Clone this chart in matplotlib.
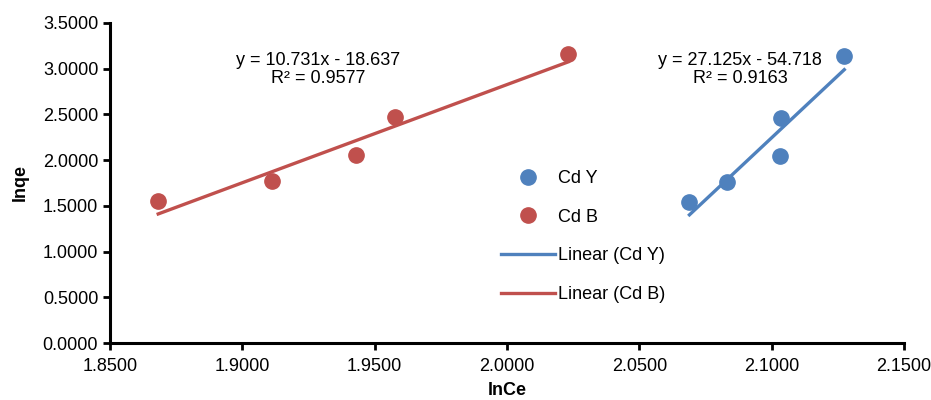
import numpy as np
import matplotlib.pyplot as plt

plt.rcParams['font.family'] = ['Liberation Sans', 'DejaVu Sans']

# data
cd_y_x = [2.0689, 2.0832, 2.1034, 2.1031, 2.1274]
cd_y_y = [1.538, 1.756, 2.456, 2.044, 3.140]
cd_b_x = [1.8682, 1.9111, 1.9429, 1.9577, 2.0231]
cd_b_y = [1.552, 1.774, 2.055, 2.467, 3.155]

# trendline coefficients (slope, intercept) and R^2 as printed
fit_y = [27.125, -54.718]
fit_b = [10.731, -18.637]
r2_y = 0.9163
r2_b = 0.9577

blue = '#4F81BD'
red = '#C0504D'

fig = plt.figure(figsize=(9.31, 4.0), dpi=100)
ax = fig.add_axes([0.1182, 0.1425, 0.8529, 0.8005])

ax.plot(cd_y_x, cd_y_y, 'o', color=blue, ms=11, label='Cd Y', zorder=3)
ax.plot(cd_b_x, cd_b_y, 'o', color=red, ms=11, label='Cd B', zorder=3)

# linear trendlines over the data range
xs_y = np.array([min(cd_y_x), max(cd_y_x)])
xs_b = np.array([min(cd_b_x), max(cd_b_x)])
ax.plot(xs_y, fit_y[0] * xs_y + fit_y[1], color=blue, lw=2.4, label='Linear (Cd Y)')
ax.plot(xs_b, fit_b[0] * xs_b + fit_b[1], color=red, lw=2.4, label='Linear (Cd B)')

ax.text(1.9286, 2.99, f'y = {fit_b[0]}x - {abs(fit_b[1])}\nR² = {r2_b}',
        ha='center', va='center', fontsize=13, linespacing=1.1)
ax.text(2.0881, 2.99, f'y = {fit_y[0]}x - {abs(fit_y[1])}\nR² = {r2_y}',
        ha='center', va='center', fontsize=13, linespacing=1.1)

ax.set_xlim(1.85, 2.15)
ax.set_ylim(0, 3.5)
ax.set_xticks(np.arange(1.85, 2.151, 0.05))
ax.set_yticks(np.arange(0, 3.51, 0.5))
ax.xaxis.set_major_formatter(plt.FormatStrFormatter('%.4f'))
ax.yaxis.set_major_formatter(plt.FormatStrFormatter('%.4f'))
ax.tick_params(labelsize=13, width=2, length=5, direction='out')
ax.tick_params(axis='x', pad=6)

for s in ['top', 'right']:
    ax.spines[s].set_visible(False)
for s in ['left', 'bottom']:
    ax.spines[s].set_linewidth(2.2)

ax.set_xlabel('lnCe', fontsize=13, fontweight='bold', labelpad=5)
ax.set_ylabel('lnqe', fontsize=13, fontweight='bold', labelpad=10)

ax.legend(loc='upper left', bbox_to_anchor=(492 / 931, 1 - 161 / 400),
          bbox_transform=fig.transFigure, frameon=False, fontsize=13,
          handlelength=3.0, handletextpad=0.15, labelspacing=1.2, borderpad=0)

fig.savefig('out.png', dpi=100)
